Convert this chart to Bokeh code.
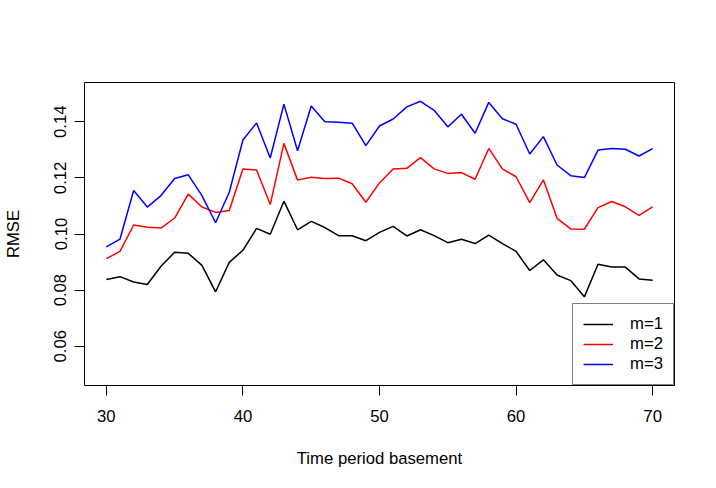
from bokeh.plotting import figure
from bokeh.models import Range1d, FixedTicker, Legend, LegendItem, ColumnDataSource
from bokeh.embed import file_html
from bokeh.resources import INLINE

periods = list(range(30, 71))
rmse_m1 = [0.0838, 0.0848, 0.0829, 0.0820, 0.0885, 0.0935, 0.0931, 0.0888, 0.0794, 0.0899,
           0.0942, 0.1020, 0.0999, 0.1117, 0.1015, 0.1045, 0.1023, 0.0994, 0.0994, 0.0976,
           0.1006, 0.1027, 0.0993, 0.1015, 0.0994, 0.0969, 0.0981, 0.0966, 0.0996, 0.0966,
           0.0938, 0.0870, 0.0908, 0.0854, 0.0834, 0.0776, 0.0892, 0.0882, 0.0882, 0.0840,
           0.0835]
rmse_m2 = [0.0912, 0.0938, 0.1032, 0.1024, 0.1021, 0.1057, 0.1142, 0.1096, 0.1077, 0.1084,
           0.1232, 0.1228, 0.1105, 0.1323, 0.1192, 0.1202, 0.1198, 0.1199, 0.1179, 0.1113,
           0.1182, 0.1232, 0.1234, 0.1272, 0.1232, 0.1216, 0.1219, 0.1195, 0.1305, 0.1232,
           0.1204, 0.1112, 0.1193, 0.1056, 0.1018, 0.1017, 0.1094, 0.1116, 0.1097, 0.1066,
           0.1097]
rmse_m3 = [0.0954, 0.0982, 0.1155, 0.1096, 0.1137, 0.1198, 0.1211, 0.1137, 0.1040, 0.1149,
           0.1335, 0.1396, 0.1271, 0.1463, 0.1297, 0.1456, 0.1400, 0.1398, 0.1395, 0.1315,
           0.1385, 0.1410, 0.1453, 0.1473, 0.1441, 0.1382, 0.1427, 0.1359, 0.1469, 0.1411,
           0.1391, 0.1285, 0.1347, 0.1246, 0.1208, 0.1201, 0.1299, 0.1305, 0.1302, 0.1278,
           0.1304]
series_labels = ["m=1", "m=2", "m=3"]
series_colors = ["#000000", "#ff0000", "#0000ff"]
x_ticks = [30, 40, 50, 60, 70]
y_ticks = [0.06, 0.08, 0.10, 0.12, 0.14]
y_tick_labels = ["0.06", "0.08", "0.10", "0.12", "0.14"]

FONT = "Liberation Sans"
FSIZE = "16.7px"

p = figure(width=700, height=472, output_backend="svg", toolbar_location=None,
           x_range=Range1d(28.4, 71.6), y_range=Range1d(0.046, 0.154),
           min_border_left=82, min_border_top=82, min_border_right=26, min_border_bottom=87,
           x_axis_label="Time period basement", y_axis_label="RMSE")
p.background_fill_color = "white"
p.border_fill_color = "white"
p.grid.visible = False
p.outline_line_color = "black"
p.outline_line_width = 1

p.xaxis.ticker = FixedTicker(ticks=x_ticks)
p.yaxis.ticker = FixedTicker(ticks=y_ticks)
p.yaxis.major_label_overrides = {t: l for t, l in zip(y_ticks, y_tick_labels)}
p.yaxis.major_label_orientation = "vertical"
for ax in (p.xaxis, p.yaxis):
    ax.axis_line_color = None
    ax.major_tick_out = 10
    ax.major_tick_in = 0
    ax.minor_tick_line_color = None
    ax.major_tick_line_color = "black"
    ax.major_label_text_font = FONT
    ax.major_label_text_font_size = FSIZE
    ax.major_label_text_color = "black"
    ax.axis_label_text_font = FONT
    ax.axis_label_text_font_size = FSIZE
    ax.axis_label_text_font_style = "normal"
    ax.axis_label_text_color = "black"
p.xaxis.major_label_standoff = 14
p.xaxis.axis_label_standoff = 24
p.yaxis.major_label_standoff = 8
p.yaxis.axis_label_standoff = 29

items = []
for vals, lab, col in zip([rmse_m1, rmse_m2, rmse_m3], series_labels, series_colors):
    src = ColumnDataSource(dict(x=periods, y=vals))
    r = p.line("x", "y", source=src, line_color=col, line_width=1.5)
    items.append(LegendItem(label=lab, renderers=[r]))

legend = Legend(items=items, location="bottom_right", margin=0, padding=10,
                spacing=0, glyph_width=30, glyph_height=20, label_height=20,
                label_standoff=17, label_text_font=FONT, label_text_font_size=FSIZE,
                label_text_color="black",
                border_line_color="black", border_line_width=1,
                background_fill_color="white", background_fill_alpha=1.0)
p.add_layout(legend, "center")

open("out.html", "w").write(file_html(p, INLINE))
